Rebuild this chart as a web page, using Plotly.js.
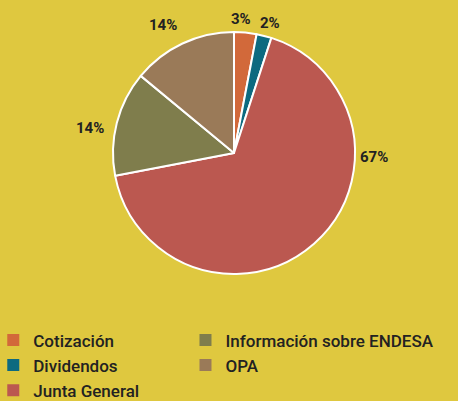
<!DOCTYPE html>
<html><head><meta charset="utf-8">
<script src="https://cdn.plot.ly/plotly-3.0.1.min.js"></script>
<style>html,body{margin:0;padding:0;background:#dfc83f;}</style>
</head><body><div id="chart" style="width:458px;height:401px;"></div>
<script>
const categories = ["Cotización", "Dividendos", "Junta General", "Información sobre ENDESA", "OPA"];
const values = [3, 2, 67, 14, 14];
const colors = ["#d2693a", "#0d6a80", "#bb5850", "#7f7d4c", "#9a7a58"];
const legendGroup = ["legend", "legend", "legend", "legend2", "legend2"];

// label anchor positions (pixels), layout only
const labelPos = [[241, 19], [270, 23], [374, 157], [90, 128], [163, 25]];

const traces = [{
  type: "pie",
  labels: categories,
  values: values,
  sort: false,
  direction: "clockwise",
  rotation: 0,
  marker: {colors: colors, line: {color: "#ffffff", width: 2}},
  textposition: "none",
  showlegend: false,
  hoverinfo: "label+percent",
  domain: {x: [0.2467, 0.7751], y: [0.3167, 0.9202]}
}];
categories.forEach((c, i) => {
  traces.push({
    type: "scatter", mode: "markers", x: [null], y: [null], name: c,
    legendgroup: "g" + i,
    marker: {symbol: "square", size: 12, color: colors[i]},
    legend: legendGroup[i], showlegend: true, hoverinfo: "skip"
  });
});

const annotations = values.map((v, i) => ({
  xref: "paper", yref: "paper",
  x: labelPos[i][0] / 458, y: 1 - labelPos[i][1] / 401,
  xanchor: "center", yanchor: "middle",
  text: v + "%", showarrow: false,
  font: {family: "Roboto, sans-serif", size: 15, color: "#222222", weight: "bold"}
}));

const legendFont = {family: "Roboto, sans-serif", size: 17, color: "#222222", weight: 500};
const layout = {
  width: 458, height: 401,
  margin: {l: 0, r: 0, t: 0, b: 0, autoexpand: false},
  paper_bgcolor: "#dfc83f", plot_bgcolor: "#dfc83f",
  xaxis: {visible: false}, yaxis: {visible: false},
  annotations: annotations,
  legend: {x: -0.0147, xanchor: "left", y: 0.196, yanchor: "top", bgcolor: "rgba(0,0,0,0)", font: legendFont, tracegroupgap: 0},
  legend2: {x: 0.405, xanchor: "left", y: 0.196, yanchor: "top", bgcolor: "rgba(0,0,0,0)", font: legendFont, tracegroupgap: 0},
  showlegend: true
};
Plotly.newPlot("chart", traces, layout, {displayModeBar: false, staticPlot: true});
</script></body></html>
